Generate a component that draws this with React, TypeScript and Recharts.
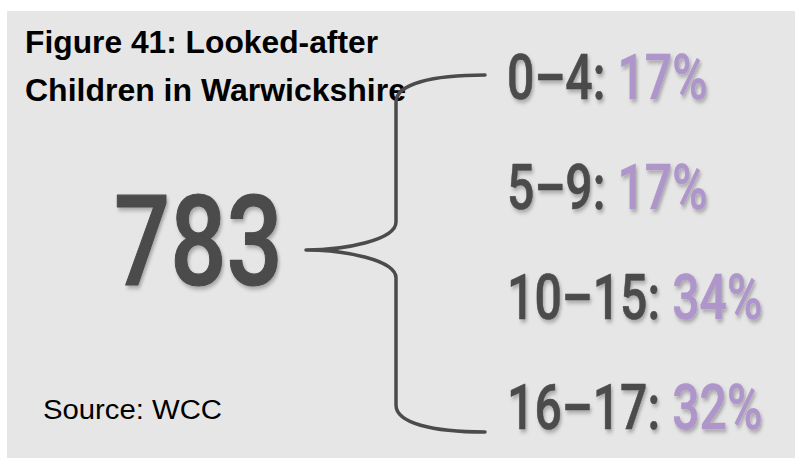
import { BarChart, Bar, XAxis, YAxis, LabelList, Customized } from "recharts";

// looked-after children by age band, Warwickshire (source: WCC)
const ageBands = ["0–4", "5–9", "10–15", "16–17"];
const shares = [17, 17, 34, 32];
const totalChildren = 783;

const titleLines = ["Figure 41: Looked-after", "Children in Warwickshire"];
const sourceNote = "Source: WCC";

const DARK = "#4b4b4b";
const PURPLE = "#ae96ca";
const BIG_FONT = "Roboto, 'DejaVu Sans Condensed', sans-serif";

const data = ageBands.map((band, i) => ({ band, share: shares[i] }));

function BandLabel(props: any) {
  const { x, y, height, index } = props;
  const baseY = y + height / 2 + 34;
  return (
    <text
      transform={`translate(${x} ${baseY}) scale(0.765 1)`}
      fontFamily={BIG_FONT}
      fontWeight={500}
      fontSize={63}
      strokeWidth={0.6}
      strokeLinejoin="round"
      filter="url(#txtShadow)"
    >
      <tspan fill={DARK} stroke={DARK}>{ageBands[index]}: </tspan>
      <tspan fill={PURPLE} stroke={PURPLE}>{shares[index]}%</tspan>
    </text>
  );
}

function Decor() {
  return (
    <g>
      {titleLines.map((t, i) => (
        <text
          key={t}
          x={25}
          y={53 + i * 48}
          fontFamily="'Liberation Sans', Arial, sans-serif"
          fontWeight={700}
          fontSize={31}
          fill="#000"
          textLength={i === 0 ? 353 : 381}
          lengthAdjust="spacingAndGlyphs"
        >
          {t}
        </text>
      ))}
      <text
        x={43}
        y={419}
        fontFamily="'Liberation Sans', Arial, sans-serif"
        fontSize={27}
        fill="#000"
        textLength={179}
        lengthAdjust="spacingAndGlyphs"
      >
        {sourceNote}
      </text>
      <text
        transform="translate(114 285) scale(0.785 1)"
        fontFamily={BIG_FONT}
        fontWeight={500}
        fontSize={126}
        fill={DARK}
        stroke={DARK}
        strokeWidth={1.2}
        strokeLinejoin="round"
        filter="url(#txtShadow)"
      >
        {totalChildren}
      </text>
      <path
        d="M485 75 C432 75 396 84 396 102 L396 222 C396 240 345 250 306 250 C345 250 396 260 396 278 L396 405 C396 423 432 432 485 432"
        fill="none"
        stroke={DARK}
        strokeWidth={3.5}
        strokeLinecap="round"
        strokeLinejoin="round"
      />
    </g>
  );
}

export default function App() {
  return (
    <div style={{ position: "absolute", left: 0, top: 0, width: 795, height: 459, background: "#fff" }}>
      <div style={{ position: "absolute", left: 7, top: 11, right: 0, bottom: 1, background: "#e6e6e6" }} />
      <svg width={0} height={0} style={{ position: "absolute" }}>
        <defs>
          <filter id="txtShadow" x="-10%" y="-10%" width="130%" height="140%">
            <feDropShadow dx={2} dy={3} stdDeviation={2} floodColor="#000" floodOpacity={0.28} />
          </filter>
        </defs>
      </svg>
      <div style={{ position: "absolute", left: 0, top: 0 }}>
        <BarChart
          width={795}
          height={459}
          data={data}
          layout="vertical"
          margin={{ top: 10, right: 0, bottom: 9, left: 507 }}
        >
          <XAxis type="number" hide domain={[0, 100]} />
          <YAxis type="category" dataKey="band" hide />
          <Customized component={<Decor />} />
          <Bar dataKey="share" fill="transparent" isAnimationActive={false}>
            <LabelList dataKey="share" content={<BandLabel />} />
          </Bar>
        </BarChart>
      </div>
    </div>
  );
}
